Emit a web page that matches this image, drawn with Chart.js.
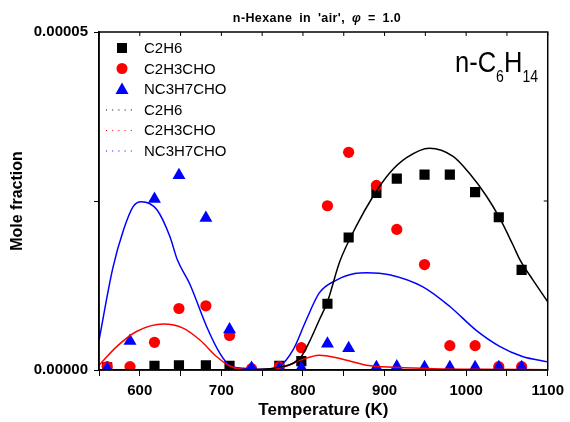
<!DOCTYPE html>
<html>
<head>
<meta charset="utf-8">
<script src="https://cdn.jsdelivr.net/npm/chart.js@4.4.0/dist/chart.umd.min.js"></script>
<style>
body{margin:0;background:#fff}
</style>
</head>
<body>
<canvas id="myChart" width="570" height="422"></canvas>
<script>
// measured points (temperature K, mole fraction in units of 1e-6)
var temp_c2h6=[560,618,648,681,710,771,798,830,856,890,915,949,980,1011,1040,1068];
var c2h6=[0.4,0.6,0.7,0.7,0.6,0.6,1.3,9.8,19.6,26.2,28.3,28.9,28.9,26.3,22.6,14.8];

var temp_acro=[560,588,618,648,681,710,737,771,798,830,856,890,915,949,980,1011,1040,1068];
var c2h3cho=[0.5,0.5,4.1,9.1,9.5,5.1,0.2,0.5,3.3,24.3,32.2,27.3,20.8,15.6,3.6,3.6,0.5,0.5];

var temp_but=[560,588,618,648,681,710,737,771,798,830,856,890,915,949,980,1011,1040,1068];
var nc3h7cho=[0.2,4.3,25.3,28.8,22.5,6.0,0.3,0.2,0.3,3.9,3.2,0.4,0.5,0.4,0.4,0.4,0.4,0.4];

// model curves
var mT_c2h6=[550,700,740,760,775,788,798,808,820,830,845,865,886,906,927,955,984,1004,1025,1041,1057,1066,1082,1100];
var m_c2h6=[0,0,0.05,0.2,0.5,1.0,2.0,4.2,7.4,10.1,16.0,21.2,25.7,29.1,31.4,32.8,31.6,29.1,25.7,22.5,18.6,16.3,13.3,10.1];

var mT_acro=[550,572,596,629,653,674,694,710,735,760,780,798,820,845,878,914,960,1020,1100];
var m_c2h3cho=[0.7,3.5,5.7,6.8,6.2,4.4,2.0,0.6,0.05,0.1,0.6,1.5,2.2,1.7,0.7,0.4,0.2,0.1,0.05];

var mT_but=[550,567,580,592,602,621,637,646,661,682,698,710,727,745,760,771,788,804,820,841,865,878,906,947,980,1012,1041,1069,1100];
var m_nc3h7cho=[4.4,15.1,20.7,24.2,24.9,23.7,19.7,16.3,12.8,6.4,2.5,0.7,0.25,0.1,0.2,0.5,3.0,7.4,11.4,13.3,14.3,14.4,14.1,12.3,9.4,5.9,3.5,2.0,1.2];

var x_ticks=[600,700,800,900,1000,1100];
var y_ticks=[0,0.00005];

var FONT="'Liberation Sans', Arial, sans-serif";

function pts(xs,ys){
  var out=[];
  for(var i=0;i<xs.length;i++) out.push({x:xs[i],y:ys[i]*1e-6});
  return out;
}

var legendItems=[
  {label:'C2H6',color:'#000000',kind:'rect'},
  {label:'C2H3CHO',color:'#ff0000',kind:'circle'},
  {label:'NC3H7CHO',color:'#0000ff',kind:'triangle'},
  {label:'C2H6',color:'#000000',kind:'dot'},
  {label:'C2H3CHO',color:'#ff0000',kind:'dot'},
  {label:'NC3H7CHO',color:'#0000ff',kind:'dot'}
];

var decor={
  id:'decor',
  afterDraw:function(chart){
    var ctx=chart.ctx, a=chart.chartArea;
    var xs=chart.scales.x, ys=chart.scales.y;
    ctx.save();
    // frame + inner ticks on top/right
    ctx.strokeStyle='#000';
    ctx.lineWidth=1.5;
    ctx.strokeRect(a.left,a.top,a.right-a.left,a.bottom-a.top);
    ctx.lineWidth=1;
    for(var t=550;t<=1100;t+=50){
      var px=xs.getPixelForValue(t);
      ctx.beginPath();ctx.moveTo(px,a.top);ctx.lineTo(px,a.top+4);ctx.stroke();
    }
    var py=ys.getPixelForValue(0.000025);
    ctx.beginPath();ctx.moveTo(a.right,py);ctx.lineTo(a.right-4,py);ctx.stroke();

    // title, pieces laid out one after another
    ctx.fillStyle='#000';
    ctx.textBaseline='alphabetic';
    ctx.textAlign='left';
    var parts=[['n-Hexane in \'air\', ','bold'],['\u03c6','italic bold'],[' = 1.0','bold']];
    ctx.letterSpacing='0.4px';
    var w=0;
    for(var k=0;k<parts.length;k++){
      ctx.font=parts[k][1]+' 12.5px '+FONT;
      w+=ctx.measureText(parts[k][0]).width+3*(parts[k][0].split(' ').length-1);
    }
    var tx=317-w/2;
    for(var k=0;k<parts.length;k++){
      ctx.font=parts[k][1]+' 12.5px '+FONT;
      var words=parts[k][0].split(' ');
      for(var j=0;j<words.length;j++){
        ctx.fillText(words[j],tx,22);
        tx+=ctx.measureText(words[j]).width;
        if(j<words.length-1) tx+=ctx.measureText(' ').width+3;
      }
    }
    ctx.letterSpacing='0px';

    // n-C6H14
    ctx.save();
    ctx.translate(455,0);
    ctx.scale(0.88,1);
    var x=0;
    ctx.font='29px '+FONT;
    ctx.fillText('n-C',x,71.5); x+=ctx.measureText('n-C').width;
    ctx.font='16px '+FONT;
    ctx.fillText('6',x,81.5); x+=ctx.measureText('6').width;
    ctx.font='29px '+FONT;
    ctx.fillText('H',x,71.5); x+=ctx.measureText('H').width;
    ctx.font='16px '+FONT;
    ctx.fillText('14',x,81.5);
    ctx.restore();

    // legend
    ctx.font='15px '+FONT;
    ctx.textBaseline='middle';
    for(var i=0;i<legendItems.length;i++){
      var it=legendItems[i], cy=48+i*20.5, cx=122;
      ctx.fillStyle=it.color;
      ctx.strokeStyle=it.color;
      if(it.kind=='rect'){
        ctx.fillRect(cx-5,cy-5,10,10);
      }else if(it.kind=='circle'){
        ctx.beginPath();ctx.arc(cx,cy,5.5,0,Math.PI*2);ctx.fill();
      }else if(it.kind=='triangle'){
        ctx.beginPath();ctx.moveTo(cx,cy-6.5);ctx.lineTo(cx+6.5,cy+5);ctx.lineTo(cx-6.5,cy+5);ctx.closePath();ctx.fill();
      }else{
        for(var d=106;d<=131;d+=6.2){ctx.fillRect(d,cy,1,1);}
      }
      ctx.fillStyle='#000';
      ctx.fillText(it.label,144,cy+1);
    }
    ctx.restore();
  }
};

var ctx=document.getElementById('myChart').getContext('2d');
var chart=new Chart(ctx,{
  type:'scatter',
  data:{
    datasets:[
      {label:'C2H6 model',data:pts(mT_c2h6,m_c2h6),showLine:true,borderColor:'#000000',borderWidth:1.5,pointRadius:0,cubicInterpolationMode:'monotone',order:0},
      {label:'C2H3CHO model',data:pts(mT_acro,m_c2h3cho),showLine:true,borderColor:'#ff0000',borderWidth:1.5,pointRadius:0,cubicInterpolationMode:'monotone',order:0},
      {label:'NC3H7CHO model',data:pts(mT_but,m_nc3h7cho),showLine:true,borderColor:'#0000ff',borderWidth:1.5,pointRadius:0,cubicInterpolationMode:'monotone',order:0},
      {label:'NC3H7CHO',data:pts(temp_but,nc3h7cho),pointStyle:'triangle',pointRadius:7.5,backgroundColor:'#0000ff',borderColor:'#0000ff',borderWidth:0,order:1},
      {label:'C2H3CHO',data:pts(temp_acro,c2h3cho),pointStyle:'circle',pointRadius:5.6,backgroundColor:'#ff0000',borderColor:'#ff0000',borderWidth:0,order:2},
      {label:'C2H6',data:pts(temp_c2h6,c2h6),pointStyle:'rect',pointRadius:7.2,backgroundColor:'#000000',borderColor:'#000000',borderWidth:0,order:3}
    ]
  },
  options:{
    responsive:false,
    animation:false,
    layout:{padding:{top:32,right:22,left:0,bottom:0}},
    plugins:{legend:{display:false},tooltip:{enabled:false}},
    scales:{
      x:{
        type:'linear',min:550,max:1100,
        border:{color:'#000',width:1.5},
        grid:{drawOnChartArea:false,tickLength:6,tickColor:'#000',tickWidth:1},
        ticks:{stepSize:50,autoSkip:false,maxRotation:0,color:'#000',padding:6,
          font:{family:FONT,size:15,weight:'bold'},
          callback:function(v){return x_ticks.indexOf(v)>=0?String(v):'';}},
        title:{display:true,text:'Temperature (K)',color:'#000',font:{family:FONT,size:17,weight:'bold'},padding:{top:0,bottom:1}},
        afterFit:function(s){s.height=52;}
      },
      y:{
        type:'linear',min:0,max:0.00005,
        border:{color:'#000',width:1.5},
        grid:{drawOnChartArea:false,tickLength:5,tickColor:'#000',tickWidth:1},
        ticks:{stepSize:0.000025,color:'#000',padding:6,
          font:{family:FONT,size:15,weight:'bold'},
          callback:function(v){
            for(var i=0;i<y_ticks.length;i++){if(Math.abs(v-y_ticks[i])<1e-12) return y_ticks[i].toFixed(5);}
            return '';
          }},
        title:{display:true,text:'Mole fraction',color:'#000',font:{family:FONT,size:16,weight:'bold'},padding:{top:8,bottom:0}},
        afterFit:function(s){s.width=99;}
      }
    }
  },
  plugins:[decor]
});
</script>
</body>
</html>
